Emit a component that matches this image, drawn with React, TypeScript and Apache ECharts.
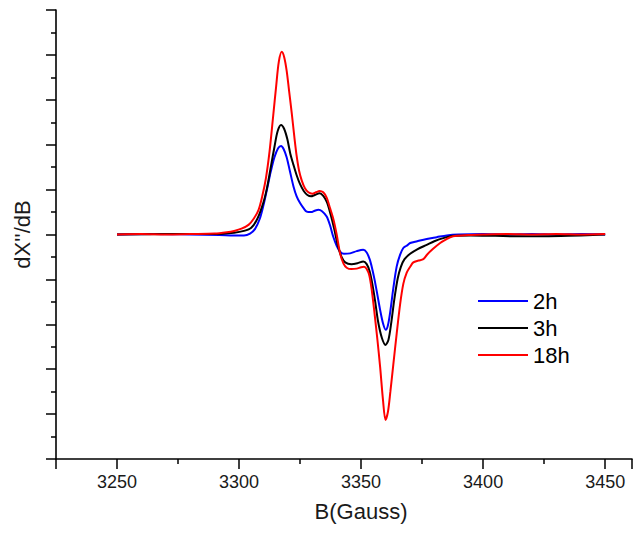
import React, { useEffect, useRef } from "react";
import * as echarts from "echarts";

const seriesNames = ["2h", "3h", "18h"];
const seriesColors = ["#0000ff", "#000000", "#ff0000"];

const data2h: [number, number][] = [
  [3250, 0.0], [3265, 0.01], [3280, 0.0], [3292, -0.01], [3298, -0.02], [3302, -0.02],
  [3304.5, 0.02], [3306.5, 0.12], [3308.5, 0.35], [3310, 0.65], [3311.5, 1.02], [3313, 1.4],
  [3314.5, 1.72], [3316, 1.92], [3317.2, 1.97], [3318.3, 1.9], [3319.5, 1.72], [3320.8, 1.42],
  [3322.3, 1.07], [3323.6, 0.85], [3325, 0.7], [3326.5, 0.58], [3327.7, 0.51], [3329.5, 0.5],
  [3331, 0.53], [3332.5, 0.55], [3334, 0.52], [3335.9, 0.4], [3337.3, 0.2], [3338.6, -0.05],
  [3340, -0.25], [3341.4, -0.38], [3343, -0.43], [3345.5, -0.42], [3348.2, -0.37], [3350.9, -0.34],
  [3352.3, -0.4], [3353.5, -0.55], [3354.5, -0.75], [3355.5, -1.0], [3356.7, -1.35], [3357.8, -1.68],
  [3359, -1.98], [3360.1, -2.12], [3361, -2.02], [3362, -1.7], [3363.2, -1.2], [3364.6, -0.71],
  [3366, -0.45], [3367.3, -0.3], [3368.7, -0.25], [3370.1, -0.19], [3373, -0.15], [3376.9, -0.1],
  [3381, -0.06], [3385.1, -0.02], [3390, 0.0], [3400, 0.01], [3410, 0.0], [3420, 0.01],
  [3430, 0.0], [3440, 0.01], [3450, 0.0],
];

const data3h: [number, number][] = [
  [3250, 0.0], [3270, 0.01], [3290, 0.01], [3298, 0.04], [3302, 0.08], [3305, 0.15],
  [3307.5, 0.35], [3310, 0.72], [3311.5, 1.05], [3313, 1.5], [3314.5, 1.95], [3315.8, 2.3],
  [3317.2, 2.44], [3318.5, 2.35], [3319.8, 2.12], [3321, 1.8], [3322.3, 1.55], [3323.6, 1.32],
  [3325, 1.12], [3326.5, 0.97], [3328, 0.88], [3329.5, 0.85], [3331, 0.88], [3333, 0.92],
  [3334.5, 0.86], [3336, 0.72], [3337.5, 0.45], [3339, 0.12], [3340.5, -0.25], [3342, -0.5],
  [3343.5, -0.62], [3346, -0.66], [3348.5, -0.64], [3350.9, -0.6], [3352.3, -0.66], [3353.5, -0.82],
  [3354.6, -1.1], [3355.8, -1.5], [3357, -1.95], [3358.5, -2.3], [3360, -2.46], [3361.2, -2.35],
  [3362.4, -1.95], [3363.6, -1.45], [3365, -0.98], [3366.3, -0.72], [3367.8, -0.55], [3370.1, -0.43],
  [3373, -0.33], [3376.9, -0.23], [3380, -0.15], [3383.7, -0.08], [3388, -0.03], [3395, -0.02],
  [3405, -0.03], [3415, -0.04], [3425, -0.04], [3435, -0.03], [3445, -0.01], [3450, 0.0],
];

const data18h: [number, number][] = [
  [3250, 0.0], [3260, 0.01], [3270, 0.0], [3280, 0.01], [3290, 0.02], [3295, 0.05],
  [3298, 0.08], [3301, 0.13], [3304, 0.22], [3306, 0.35], [3308, 0.55], [3309.5, 0.85],
  [3311, 1.25], [3312.5, 1.85], [3314, 2.65], [3315.2, 3.3], [3316.3, 3.85], [3317.5, 4.07],
  [3318.5, 3.95], [3319.5, 3.65], [3320.5, 3.2], [3321.6, 2.7], [3322.6, 2.2], [3323.6, 1.75],
  [3324.6, 1.42], [3325.7, 1.2], [3327, 1.03], [3328.4, 0.94], [3330, 0.91], [3331.5, 0.94],
  [3333, 0.97], [3334.5, 0.94], [3335.9, 0.82], [3337.2, 0.6], [3338.6, 0.35], [3340, 0.0],
  [3341.4, -0.42], [3342.8, -0.65], [3344.1, -0.74], [3346, -0.77], [3348.2, -0.76], [3350, -0.73],
  [3351.2, -0.72], [3352.3, -0.77], [3353.4, -0.92], [3354.4, -1.25], [3355.5, -1.75], [3356.7, -2.35],
  [3357.8, -2.95], [3359, -3.7], [3360, -4.13], [3361, -3.95], [3362, -3.5], [3363.2, -2.9],
  [3364.6, -2.2], [3366, -1.55], [3367.3, -1.1], [3368.7, -0.85], [3370.1, -0.72], [3371.4, -0.62],
  [3373.5, -0.58], [3375.5, -0.55], [3377, -0.45], [3379.5, -0.32], [3382.4, -0.19], [3384.5, -0.12],
  [3386.5, -0.06], [3389.2, -0.03], [3395, -0.01], [3400, 0.0], [3410, 0.01], [3420, 0.0],
  [3430, 0.01], [3440, 0.0], [3450, 0.01],
];

const allData = [data2h, data3h, data18h];

const xMin = 3225;
const xMax = 3461;
const yMin = -5;
const yMax = 5;

const FONT = "'Liberation Sans', Arial, sans-serif";

export default function App() {
  const ref = useRef<HTMLDivElement>(null);

  useEffect(() => {
    if (!ref.current) return;
    const chart = echarts.init(ref.current, undefined, { renderer: "svg" });
    const axisColor = "#000";
    chart.setOption({
      animation: false,
      backgroundColor: "#fff",
      grid: { left: 56, right: 11, top: 10, bottom: 81, containLabel: false },
      legend: {
        data: seriesNames,
        orient: "vertical",
        left: 473,
        top: 285,
        icon: "rect",
        itemWidth: 50,
        itemHeight: 2,
        itemGap: 5,
        textStyle: { fontFamily: FONT, fontSize: 22, color: "#000" },
      },
      xAxis: {
        type: "value",
        min: xMin,
        max: xMax,
        name: "B(Gauss)",
        nameLocation: "middle",
        nameGap: 41,
        nameTextStyle: { fontFamily: FONT, fontSize: 22, color: "#1a1a1a", padding: [0, 0, 0, 34] },
        axisLine: { onZero: false, lineStyle: { color: axisColor, width: 1.6 } },
        axisTick: { show: true, inside: false, length: 10, lineStyle: { color: axisColor, width: 1.5 } },
        minorTick: { show: true, splitNumber: 2, length: 5, lineStyle: { color: axisColor, width: 1.5 } },
        axisLabel: {
          showMinLabel: false,
          showMaxLabel: false,
          margin: 14,
          fontFamily: FONT,
          fontSize: 18,
          color: "#1a1a1a",
          formatter: (v: number) => String(v),
        },
        splitLine: { show: false },
        minorSplitLine: { show: false },
      },
      yAxis: {
        type: "value",
        min: yMin,
        max: yMax,
        interval: 1,
        name: "dX''/dB",
        nameLocation: "middle",
        nameGap: 23,
        nameRotate: 90,
        nameTextStyle: { fontFamily: FONT, fontSize: 22, color: "#1a1a1a" },
        axisLine: { show: true, onZero: false, lineStyle: { color: axisColor, width: 1.6 } },
        axisTick: { show: true, inside: false, length: 10, lineStyle: { color: axisColor, width: 1.5 } },
        minorTick: { show: true, splitNumber: 2, length: 5, lineStyle: { color: axisColor, width: 1.5 } },
        axisLabel: { show: false },
        splitLine: { show: false },
        minorSplitLine: { show: false },
      },
      series: allData.map((d, i) => ({
        name: seriesNames[i],
        type: "line",
        data: d,
        showSymbol: false,
        symbol: "none",
        smooth: 0.3,
        lineStyle: { color: seriesColors[i], width: 2 },
        itemStyle: { color: seriesColors[i] },
        z: 2 + i,
      })),
    });
    return () => chart.dispose();
  }, []);

  return (
    <div
      ref={ref}
      style={{ position: "absolute", left: 0, top: 0, width: 643, height: 540, background: "#fff" }}
    />
  );
}
